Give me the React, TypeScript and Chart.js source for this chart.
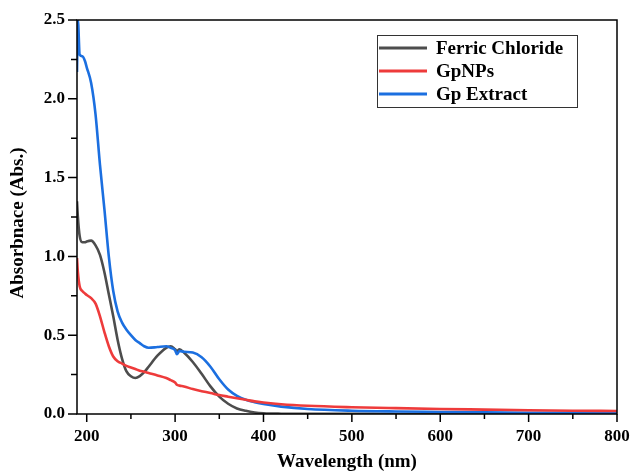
import React, { useEffect, useRef } from "react";
import { Chart, registerables } from "chart.js";

Chart.register(...registerables);

const wavelengths = [189, 190, 192, 195, 198, 200, 205, 210, 215, 220, 225, 230, 235, 240, 245, 250, 255, 260, 265, 270, 280, 290, 295, 300, 302, 305, 310, 320, 330, 340, 350, 360, 370, 380, 390, 400, 420, 450, 500, 550, 600, 650, 700, 750, 800];

const ferricChloride = [1.35, 1.25, 1.13, 1.09, 1.09, 1.095, 1.1, 1.07, 1.01, 0.9, 0.76, 0.62, 0.47, 0.35, 0.27, 0.24, 0.228, 0.24, 0.265, 0.3, 0.37, 0.42, 0.43, 0.41, 0.4, 0.41, 0.39, 0.33, 0.255, 0.175, 0.11, 0.065, 0.035, 0.02, 0.01, 0.005, 0.002, 0.001, 0.001, 0.0, 0.0, 0.0, 0.0, 0.0, 0.0];

const gpNPs = [0.99, 0.9, 0.81, 0.78, 0.765, 0.755, 0.735, 0.7, 0.62, 0.52, 0.43, 0.365, 0.335, 0.32, 0.305, 0.295, 0.285, 0.275, 0.268, 0.26, 0.245, 0.228, 0.215, 0.2, 0.185, 0.18, 0.175, 0.158, 0.145, 0.133, 0.12, 0.11, 0.1, 0.09, 0.08, 0.073, 0.062, 0.052, 0.043, 0.037, 0.032, 0.028, 0.024, 0.021, 0.019];

const gpExtract = [2.17, 2.5, 2.28, 2.27, 2.24, 2.2, 2.1, 1.9, 1.58, 1.3, 1.0, 0.78, 0.65, 0.58, 0.535, 0.5, 0.47, 0.45, 0.43, 0.42, 0.425, 0.43, 0.42, 0.405, 0.38, 0.4, 0.395, 0.39, 0.36, 0.3, 0.22, 0.155, 0.115, 0.09, 0.075, 0.063, 0.047, 0.032, 0.021, 0.016, 0.013, 0.01, 0.008, 0.007, 0.006];

const seriesNames = ["Ferric Chloride", "GpNPs", "Gp Extract"];
const seriesColors = ["#4d4d4d", "#ee3b3b", "#1b6fe0"];

const xMajorTicks = [200, 300, 400, 500, 600, 700, 800];
const xMinorTicks = [250, 350, 450, 550, 650, 750];
const yMajorTicks = [0, 0.5, 1.0, 1.5, 2.0, 2.5];
const yMinorTicks = [0.25, 0.75, 1.25, 1.75, 2.25];

const xTitle = "Wavelength (nm)";
const yTitle = "Absorbnace (Abs.)";

const FONT = "'Liberation Serif', 'Times New Roman', serif";

const framePlugin = {
  id: "framePlugin",
  afterDraw(chart: any) {
    const ctx = chart.ctx;
    const { left, right, top, bottom } = chart.chartArea;
    const xs = chart.scales.x;
    const ys = chart.scales.y;
    ctx.save();
    ctx.strokeStyle = "#000";
    ctx.lineWidth = 1.5;
    ctx.strokeRect(left, top, right - left, bottom - top);
    ctx.beginPath();
    xMajorTicks.forEach((v) => {
      const px = xs.getPixelForValue(v);
      ctx.moveTo(px, bottom);
      ctx.lineTo(px, bottom + 8);
    });
    xMinorTicks.forEach((v) => {
      const px = xs.getPixelForValue(v);
      ctx.moveTo(px, bottom);
      ctx.lineTo(px, bottom + 5);
    });
    yMajorTicks.forEach((v) => {
      const py = ys.getPixelForValue(v);
      ctx.moveTo(left, py);
      ctx.lineTo(left - 9, py);
    });
    yMinorTicks.forEach((v) => {
      const py = ys.getPixelForValue(v);
      ctx.moveTo(left, py);
      ctx.lineTo(left - 6, py);
    });
    ctx.stroke();

    // axis titles
    ctx.fillStyle = "#000";
    ctx.font = `bold 19px ${FONT}`;
    ctx.textAlign = "center";
    ctx.textBaseline = "middle";
    ctx.fillText(xTitle, (left + right) / 2, 462);
    ctx.save();
    ctx.translate(18, 223);
    ctx.rotate(-Math.PI / 2);
    ctx.fillText(yTitle, 0, 0);
    ctx.restore();

    // legend
    const bx = 377, by = 35, bw = 200, bh = 72;
    ctx.fillStyle = "#fff";
    ctx.fillRect(bx, by, bw, bh);
    ctx.strokeStyle = "#333";
    ctx.lineWidth = 1;
    ctx.strokeRect(bx + 0.5, by + 0.5, bw, bh);
    ctx.font = `bold 19px ${FONT}`;
    ctx.textAlign = "left";
    ctx.textBaseline = "middle";
    chart.data.datasets.forEach((ds: any, i: number) => {
      const y = 48 + i * 23;
      ctx.strokeStyle = ds.borderColor;
      ctx.lineWidth = 3;
      ctx.beginPath();
      ctx.moveTo(379, y);
      ctx.lineTo(427, y);
      ctx.stroke();
      ctx.fillStyle = "#000";
      ctx.fillText(ds.label, 436, y + 1);
    });
    ctx.restore();
  },
};

export default function App() {
  const ref = useRef<HTMLCanvasElement>(null);
  useEffect(() => {
    if (!ref.current) return;
    const build = (vals: number[]) => wavelengths.map((w, i) => ({ x: w, y: vals[i] }));
    const all = [ferricChloride, gpNPs, gpExtract];
    const orders = [2, 0, 1];
    const chart = new Chart(ref.current, {
      type: "line",
      data: {
        datasets: all.map((vals, i) => ({
          label: seriesNames[i],
          data: build(vals),
          borderColor: seriesColors[i],
          backgroundColor: seriesColors[i],
          borderWidth: 2.6,
          pointRadius: 0,
          tension: 0.4,
          cubicInterpolationMode: "monotone" as const,
          order: orders[i],
        })),
      },
      options: {
        responsive: false,
        animation: false,
        layout: { padding: { left: 0, top: 20, right: 13, bottom: 0 } },
        plugins: { legend: { display: false }, tooltip: { enabled: false } },
        scales: {
          x: {
            type: "linear",
            min: 189,
            max: 800,
            grid: { display: false, drawTicks: false },
            border: { display: false },
            afterBuildTicks: (s: any) => {
              s.ticks = xMajorTicks.map((v) => ({ value: v }));
            },
            afterFit: (s: any) => {
              s.height = 57;
              s.paddingLeft = 0;
              s.paddingRight = 0;
            },
            ticks: {
              padding: 12,
              color: "#000",
              maxRotation: 0,
              autoSkip: false,
              font: { family: FONT, size: 17, weight: "bold" },
            },
          },
          y: {
            type: "linear",
            min: 0,
            max: 2.5,
            grid: { display: false, drawTicks: false },
            border: { display: false },
            afterBuildTicks: (s: any) => {
              s.ticks = yMajorTicks.map((v) => ({ value: v }));
            },
            afterFit: (s: any) => {
              s.width = 77;
              s.paddingTop = 0;
              s.paddingBottom = 0;
            },
            ticks: {
              padding: 12,
              color: "#000",
              autoSkip: false,
              callback: (v: any) => Number(v).toFixed(1),
              font: { family: FONT, size: 17, weight: "bold" },
            },
          },
        },
      },
      plugins: [framePlugin],
    });
    return () => chart.destroy();
  }, []);
  return (
    <div style={{ position: "absolute", left: 0, top: 0, width: 630, height: 471, background: "#fff" }}>
      <canvas ref={ref} width={630} height={471} style={{ display: "block" }} />
    </div>
  );
}
